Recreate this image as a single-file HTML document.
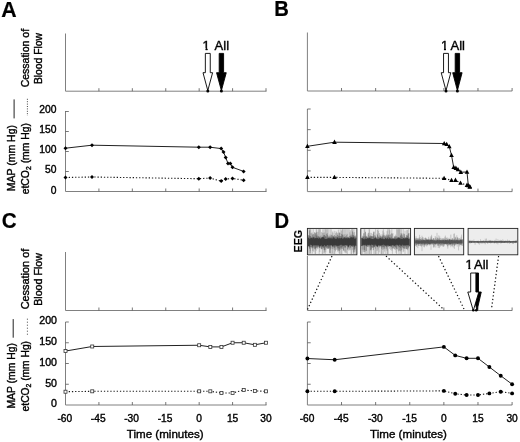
<!DOCTYPE html>
<html><head><meta charset="utf-8"><title>Figure</title>
<style>
html,body{margin:0;padding:0;background:#fff;}
body{width:520px;height:442px;overflow:hidden;}
svg{display:block;font-family:"Liberation Sans",Arial,sans-serif;fill:#000;}
text{stroke:#000;stroke-width:0.38px;}
</style></head><body>
<svg width="520" height="442" viewBox="0 0 520 442">
<rect width="520" height="442" fill="#fff"/>
<text transform="translate(1.3 16.5) scale(1.0 1)" font-size="21.3" font-weight="bold" style="stroke-width:0.2px">A</text>
<text transform="translate(274.3 16.4) scale(0.95 1)" font-size="21.3" font-weight="bold" style="stroke-width:0.2px">B</text>
<text transform="translate(1.7 228.1) scale(0.97 1)" font-size="21.3" font-weight="bold" style="stroke-width:0.2px">C</text>
<text transform="translate(274.5 228.1) scale(0.95 1)" font-size="21.3" font-weight="bold" style="stroke-width:0.2px">D</text>
<path d="M65.5 33.5V91.2H266.5" fill="none" stroke="#808080" stroke-width="1"/>
<path d="M98.92 91.2v-3M132.33 91.2v-3M165.75 91.2v-3M199.17 91.2v-3M232.58 91.2v-3M266.00 91.2v-3" fill="none" stroke="#555" stroke-width="0.8"/>
<path d="M65.5 111V191.5H266.5" fill="none" stroke="#808080" stroke-width="1"/>
<path d="M98.92 191.5v-3M132.33 191.5v-3M165.75 191.5v-3M199.17 191.5v-3M232.58 191.5v-3M266.00 191.5v-3M65.5 171.50h3.3M65.5 151.50h3.3M65.5 131.50h3.3M65.5 111.50h3.3" fill="none" stroke="#555" stroke-width="0.8"/>
<path d="M307.4 32.5V91H512.2" fill="none" stroke="#808080" stroke-width="1"/>
<path d="M341.52 91v-3M375.63 91v-3M409.75 91v-3M443.87 91v-3M477.98 91v-3M512.10 91v-3" fill="none" stroke="#555" stroke-width="0.8"/>
<path d="M307.4 109V191.6H512.2" fill="none" stroke="#808080" stroke-width="1"/>
<path d="M341.52 191.6v-3M375.63 191.6v-3M409.75 191.6v-3M443.87 191.6v-3M477.98 191.6v-3M512.10 191.6v-3M307.4 170.95h3.3M307.4 150.30h3.3M307.4 129.65h3.3M307.4 109.00h3.3" fill="none" stroke="#555" stroke-width="0.8"/>
<path d="M65.5 252V310.5H266.5" fill="none" stroke="#808080" stroke-width="1"/>
<path d="M98.92 310.5v-3M132.33 310.5v-3M165.75 310.5v-3M199.17 310.5v-3M232.58 310.5v-3M266.00 310.5v-3" fill="none" stroke="#555" stroke-width="0.8"/>
<path d="M65.5 322V405H266.5" fill="none" stroke="#808080" stroke-width="1"/>
<path d="M98.92 405v-3M132.33 405v-3M165.75 405v-3M199.17 405v-3M232.58 405v-3M266.00 405v-3M65.5 384.25h3.3M65.5 363.50h3.3M65.5 342.75h3.3M65.5 322.00h3.3" fill="none" stroke="#555" stroke-width="0.8"/>
<path d="M307.4 256V310.5H512.2" fill="none" stroke="#808080" stroke-width="1"/>
<path d="M341.52 310.5v-3M375.63 310.5v-3M409.75 310.5v-3M443.87 310.5v-3M477.98 310.5v-3M512.10 310.5v-3" fill="none" stroke="#555" stroke-width="0.8"/>
<path d="M307.4 322V405H512.2" fill="none" stroke="#808080" stroke-width="1"/>
<path d="M341.52 405v-3M375.63 405v-3M409.75 405v-3M443.87 405v-3M477.98 405v-3M512.10 405v-3M307.4 384.25h3.3M307.4 363.50h3.3M307.4 342.75h3.3M307.4 322.00h3.3" fill="none" stroke="#555" stroke-width="0.8"/>
<text x="56.4" y="193.51" font-size="10.3" font-weight="normal" text-anchor="end">0</text>
<text x="56.4" y="173.46" font-size="10.3" font-weight="normal" text-anchor="end">50</text>
<text x="56.4" y="153.41" font-size="10.3" font-weight="normal" text-anchor="end">100</text>
<text x="56.4" y="133.36" font-size="10.3" font-weight="normal" text-anchor="end">150</text>
<text x="56.4" y="113.31" font-size="10.3" font-weight="normal" text-anchor="end">200</text>
<text x="57.0" y="407.42" font-size="10.6" font-weight="normal" text-anchor="end">0</text>
<text x="57.0" y="386.67" font-size="10.6" font-weight="normal" text-anchor="end">50</text>
<text x="57.0" y="365.92" font-size="10.6" font-weight="normal" text-anchor="end">100</text>
<text x="57.0" y="345.17" font-size="10.6" font-weight="normal" text-anchor="end">150</text>
<text x="57.0" y="324.42" font-size="10.6" font-weight="normal" text-anchor="end">200</text>
<text x="64.8" y="422.2" font-size="10.2" font-weight="normal" text-anchor="middle">-60</text>
<text x="98.2" y="422.2" font-size="10.2" font-weight="normal" text-anchor="middle">-45</text>
<text x="131.60000000000002" y="422.2" font-size="10.2" font-weight="normal" text-anchor="middle">-30</text>
<text x="165.10000000000002" y="422.2" font-size="10.2" font-weight="normal" text-anchor="middle">-15</text>
<text x="199.2" y="422.2" font-size="10.2" font-weight="normal" text-anchor="middle">0</text>
<text x="232.6" y="422.2" font-size="10.2" font-weight="normal" text-anchor="middle">15</text>
<text x="266.0" y="422.2" font-size="10.2" font-weight="normal" text-anchor="middle">30</text>
<text x="307.09999999999997" y="422.2" font-size="10.2" font-weight="normal" text-anchor="middle">-60</text>
<text x="341.2" y="422.2" font-size="10.2" font-weight="normal" text-anchor="middle">-45</text>
<text x="375.3" y="422.2" font-size="10.2" font-weight="normal" text-anchor="middle">-30</text>
<text x="409.5" y="422.2" font-size="10.2" font-weight="normal" text-anchor="middle">-15</text>
<text x="443.9" y="422.2" font-size="10.2" font-weight="normal" text-anchor="middle">0</text>
<text x="478.0" y="422.2" font-size="10.2" font-weight="normal" text-anchor="middle">15</text>
<text x="512.1" y="422.2" font-size="10.2" font-weight="normal" text-anchor="middle">30</text>
<text x="165.2" y="437.5" font-size="11.6" font-weight="normal" text-anchor="middle">Time (minutes)</text>
<text x="408.5" y="437.5" font-size="11.6" font-weight="normal" text-anchor="middle">Time (minutes)</text>
<text x="29.2" y="87.3" font-size="10.5" font-weight="normal" text-anchor="start" transform="rotate(-90 29.2 87.3)">Cessation of</text>
<text x="41.9" y="84.1" font-size="10.35" font-weight="normal" text-anchor="start" transform="rotate(-90 41.9 84.1)">Blood Flow</text>
<text x="29.2" y="309.3" font-size="10.9" font-weight="normal" text-anchor="start" transform="rotate(-90 29.2 309.3)">Cessation of</text>
<text x="41.9" y="305.8" font-size="10.66" font-weight="normal" text-anchor="start" transform="rotate(-90 41.9 305.8)">Blood Flow</text>
<text x="15.5" y="191.3" font-size="10.5" font-weight="normal" text-anchor="start" transform="rotate(-90 15.5 191.3)">MAP (mm Hg)</text>
<path d="M14.1 99.4V118.4" stroke="#222" stroke-width="1"/>
<text x="29.5" y="194.3" font-size="10.4" transform="rotate(-90 29.5 194.3)">etCO<tspan font-size="6.8" dy="1.6">2</tspan><tspan dy="-1.6"> (mm Hg)</tspan></text>
<path d="M27.4 98.8V115.8" stroke="#444" stroke-width="1" stroke-dasharray="1 1.4"/>
<text x="15.5" y="408.6" font-size="10.4" font-weight="normal" text-anchor="start" transform="rotate(-90 15.5 408.6)">MAP (mm Hg)</text>
<path d="M13.2 319.1V337.7" stroke="#222" stroke-width="1"/>
<text x="29.5" y="411.4" font-size="10.25" transform="rotate(-90 29.5 411.4)">etCO<tspan font-size="6.8" dy="1.6">2</tspan><tspan dy="-1.6"> (mm Hg)</tspan></text>
<path d="M27.4 318.7V335.3" stroke="#444" stroke-width="1" stroke-dasharray="1 2"/>
<path d="M65.50 148.20L92.00 145.20L198.80 147.20L210.10 147.20L221.20 148.60L223.50 152.00L225.70 157.40L228.00 163.50L230.30 163.50L232.50 167.30L243.60 171.40" fill="none" stroke="#222" stroke-width="1"/>
<path d="M65.50 146.20L67.50 148.20L65.50 150.20L63.50 148.20Z" fill="#000"/>
<path d="M92.00 143.20L94.00 145.20L92.00 147.20L90.00 145.20Z" fill="#000"/>
<path d="M198.80 145.20L200.80 147.20L198.80 149.20L196.80 147.20Z" fill="#000"/>
<path d="M210.10 145.20L212.10 147.20L210.10 149.20L208.10 147.20Z" fill="#000"/>
<path d="M221.20 146.60L223.20 148.60L221.20 150.60L219.20 148.60Z" fill="#000"/>
<path d="M223.50 150.00L225.50 152.00L223.50 154.00L221.50 152.00Z" fill="#000"/>
<path d="M225.70 155.40L227.70 157.40L225.70 159.40L223.70 157.40Z" fill="#000"/>
<path d="M228.00 161.50L230.00 163.50L228.00 165.50L226.00 163.50Z" fill="#000"/>
<path d="M230.30 161.50L232.30 163.50L230.30 165.50L228.30 163.50Z" fill="#000"/>
<path d="M232.50 165.30L234.50 167.30L232.50 169.30L230.50 167.30Z" fill="#000"/>
<path d="M243.60 169.40L245.60 171.40L243.60 173.40L241.60 171.40Z" fill="#000"/>
<path d="M65.50 177.50L92.00 177.00L198.80 178.70L210.10 178.10L221.20 181.10L225.70 179.10L232.50 178.40L243.60 180.20" fill="none" stroke="#1a1a1a" stroke-width="1.1" stroke-dasharray="1.3 1.9"/>
<path d="M65.50 175.50L67.50 177.50L65.50 179.50L63.50 177.50Z" fill="#000"/>
<path d="M92.00 175.00L94.00 177.00L92.00 179.00L90.00 177.00Z" fill="#000"/>
<path d="M198.80 176.70L200.80 178.70L198.80 180.70L196.80 178.70Z" fill="#000"/>
<path d="M210.10 176.10L212.10 178.10L210.10 180.10L208.10 178.10Z" fill="#000"/>
<path d="M221.20 179.10L223.20 181.10L221.20 183.10L219.20 181.10Z" fill="#000"/>
<path d="M225.70 177.10L227.70 179.10L225.70 181.10L223.70 179.10Z" fill="#000"/>
<path d="M232.50 176.40L234.50 178.40L232.50 180.40L230.50 178.40Z" fill="#000"/>
<path d="M243.60 178.20L245.60 180.20L243.60 182.20L241.60 180.20Z" fill="#000"/>
<path d="M205.35 53.4H210.25V72.7H212.60L207.80 90.6L203.00 72.7H205.35Z" fill="#fff" stroke="#000" stroke-width="0.9" stroke-linejoin="miter"/>
<path d="M219.20 53.4H223.60V72.7H226.25L221.40 90.6L216.55 72.7H219.20Z" fill="#000" stroke="#000" stroke-width="0.9" stroke-linejoin="miter"/>
<circle cx="207.8" cy="91" r="1.5" fill="#000"/><circle cx="221.4" cy="91" r="1.5" fill="#000"/>
<clipPath id="c1_1"><path d="M201.60 37.80H211.60V48.10H207.60V50.80H205.55V48.10H201.60Z"/></clipPath>
<text x="202.6" y="49.8" font-size="13" clip-path="url(#c1_1)">1</text>
<text x="214.6" y="49.8" font-size="13" font-weight="normal" text-anchor="start">All</text>
<path d="M307.40 146.30L334.50 142.20L444.20 143.50L446.70 144.30L449.30 146.60L451.50 155.30L453.70 167.30L455.90 168.20L458.00 169.60L460.80 172.20L467.00 172.00L468.30 185.50L469.80 186.60" fill="none" stroke="#222" stroke-width="1"/>
<path d="M307.40 143.70L309.70 148.00L305.10 148.00Z" fill="#000"/>
<path d="M334.50 139.60L336.80 143.90L332.20 143.90Z" fill="#000"/>
<path d="M444.20 140.90L446.50 145.20L441.90 145.20Z" fill="#000"/>
<path d="M446.70 141.70L449.00 146.00L444.40 146.00Z" fill="#000"/>
<path d="M449.30 144.00L451.60 148.30L447.00 148.30Z" fill="#000"/>
<path d="M451.50 152.70L453.80 157.00L449.20 157.00Z" fill="#000"/>
<path d="M453.70 164.70L456.00 169.00L451.40 169.00Z" fill="#000"/>
<path d="M455.90 165.60L458.20 169.90L453.60 169.90Z" fill="#000"/>
<path d="M458.00 167.00L460.30 171.30L455.70 171.30Z" fill="#000"/>
<path d="M460.80 169.60L463.10 173.90L458.50 173.90Z" fill="#000"/>
<path d="M467.00 169.40L469.30 173.70L464.70 173.70Z" fill="#000"/>
<path d="M468.30 182.90L470.60 187.20L466.00 187.20Z" fill="#000"/>
<path d="M469.80 184.00L472.10 188.30L467.50 188.30Z" fill="#000"/>
<path d="M307.40 177.40L334.50 177.40L444.10 178.30L451.50 180.30L455.50 180.20L460.50 183.00L467.00 185.20L469.80 187.00" fill="none" stroke="#1a1a1a" stroke-width="1.1" stroke-dasharray="1.3 1.9"/>
<path d="M307.40 174.80L309.70 179.10L305.10 179.10Z" fill="#000"/>
<path d="M334.50 174.80L336.80 179.10L332.20 179.10Z" fill="#000"/>
<path d="M444.10 175.70L446.40 180.00L441.80 180.00Z" fill="#000"/>
<path d="M451.50 177.70L453.80 182.00L449.20 182.00Z" fill="#000"/>
<path d="M455.50 177.60L457.80 181.90L453.20 181.90Z" fill="#000"/>
<path d="M460.50 180.40L462.80 184.70L458.20 184.70Z" fill="#000"/>
<path d="M467.00 182.60L469.30 186.90L464.70 186.90Z" fill="#000"/>
<path d="M469.80 184.40L472.10 188.70L467.50 188.70Z" fill="#000"/>
<path d="M443.55 53.4H448.45V72.7H450.80L446.00 90.6L441.20 72.7H443.55Z" fill="#fff" stroke="#000" stroke-width="0.9" stroke-linejoin="miter"/>
<path d="M455.20 53.4H459.60V72.7H462.10L457.40 90.6L452.70 72.7H455.20Z" fill="#000" stroke="#000" stroke-width="0.9" stroke-linejoin="miter"/>
<circle cx="446" cy="91" r="1.5" fill="#000"/><circle cx="457.4" cy="91" r="1.5" fill="#000"/>
<clipPath id="c1_2"><path d="M440.00 37.80H450.00V48.10H446.00V50.80H443.95V48.10H440.00Z"/></clipPath>
<text x="441.0" y="49.8" font-size="13" clip-path="url(#c1_2)">1</text>
<text x="450.5" y="49.8" font-size="13" font-weight="normal" text-anchor="start">All</text>
<path d="M65.50 351.05L92.23 346.49L199.17 345.24L210.31 346.90L221.44 346.90L232.58 342.75L243.72 342.75L254.86 344.82L266.00 342.75" fill="none" stroke="#222" stroke-width="1"/>
<rect x="64.00" y="349.55" width="3.0" height="3.0" fill="#fff" stroke="#333" stroke-width="0.8"/>
<rect x="90.73" y="344.99" width="3.0" height="3.0" fill="#fff" stroke="#333" stroke-width="0.8"/>
<rect x="197.67" y="343.74" width="3.0" height="3.0" fill="#fff" stroke="#333" stroke-width="0.8"/>
<rect x="208.81" y="345.40" width="3.0" height="3.0" fill="#fff" stroke="#333" stroke-width="0.8"/>
<rect x="219.94" y="345.40" width="3.0" height="3.0" fill="#fff" stroke="#333" stroke-width="0.8"/>
<rect x="231.08" y="341.25" width="3.0" height="3.0" fill="#fff" stroke="#333" stroke-width="0.8"/>
<rect x="242.22" y="341.25" width="3.0" height="3.0" fill="#fff" stroke="#333" stroke-width="0.8"/>
<rect x="253.36" y="343.32" width="3.0" height="3.0" fill="#fff" stroke="#333" stroke-width="0.8"/>
<rect x="264.50" y="341.25" width="3.0" height="3.0" fill="#fff" stroke="#333" stroke-width="0.8"/>
<path d="M65.50 391.72L92.23 391.31L199.17 391.31L210.31 391.31L221.44 392.96L232.58 392.96L243.72 390.06L254.86 390.89L266.00 391.31" fill="none" stroke="#1a1a1a" stroke-width="1.1" stroke-dasharray="1.3 1.9"/>
<rect x="64.00" y="390.22" width="3.0" height="3.0" fill="#fff" stroke="#333" stroke-width="0.8"/>
<rect x="90.73" y="389.81" width="3.0" height="3.0" fill="#fff" stroke="#333" stroke-width="0.8"/>
<rect x="197.67" y="389.81" width="3.0" height="3.0" fill="#fff" stroke="#333" stroke-width="0.8"/>
<rect x="208.81" y="389.81" width="3.0" height="3.0" fill="#fff" stroke="#333" stroke-width="0.8"/>
<rect x="219.94" y="391.46" width="3.0" height="3.0" fill="#fff" stroke="#333" stroke-width="0.8"/>
<rect x="231.08" y="391.46" width="3.0" height="3.0" fill="#fff" stroke="#333" stroke-width="0.8"/>
<rect x="242.22" y="388.56" width="3.0" height="3.0" fill="#fff" stroke="#333" stroke-width="0.8"/>
<rect x="253.36" y="389.39" width="3.0" height="3.0" fill="#fff" stroke="#333" stroke-width="0.8"/>
<rect x="264.50" y="389.81" width="3.0" height="3.0" fill="#fff" stroke="#333" stroke-width="0.8"/>
<path d="M307.40 358.52L334.69 359.76L443.87 346.90L455.24 355.41L466.61 358.31L477.98 358.31L489.36 367.03L500.73 375.74L512.10 384.25" fill="none" stroke="#222" stroke-width="1"/>
<circle cx="307.40" cy="358.52" r="1.95" fill="#000"/>
<circle cx="334.69" cy="359.76" r="1.95" fill="#000"/>
<circle cx="443.87" cy="346.90" r="1.95" fill="#000"/>
<circle cx="455.24" cy="355.41" r="1.95" fill="#000"/>
<circle cx="466.61" cy="358.31" r="1.95" fill="#000"/>
<circle cx="477.98" cy="358.31" r="1.95" fill="#000"/>
<circle cx="489.36" cy="367.03" r="1.95" fill="#000"/>
<circle cx="500.73" cy="375.74" r="1.95" fill="#000"/>
<circle cx="512.10" cy="384.25" r="1.95" fill="#000"/>
<path d="M307.40 391.31L334.69 391.31L443.87 390.89L455.24 393.80L466.61 395.04L477.98 395.04L489.36 393.38L500.73 391.72L512.10 393.38" fill="none" stroke="#1a1a1a" stroke-width="1.1" stroke-dasharray="1.3 1.9"/>
<circle cx="307.40" cy="391.31" r="1.95" fill="#000"/>
<circle cx="334.69" cy="391.31" r="1.95" fill="#000"/>
<circle cx="443.87" cy="390.89" r="1.95" fill="#000"/>
<circle cx="455.24" cy="393.80" r="1.95" fill="#000"/>
<circle cx="466.61" cy="395.04" r="1.95" fill="#000"/>
<circle cx="477.98" cy="395.04" r="1.95" fill="#000"/>
<circle cx="489.36" cy="393.38" r="1.95" fill="#000"/>
<circle cx="500.73" cy="391.72" r="1.95" fill="#000"/>
<circle cx="512.10" cy="393.38" r="1.95" fill="#000"/>
<path d="M475.50 273H478.50V292H481.25L477.00 310.6L472.75 292H475.50Z" fill="#000" stroke="#000" stroke-width="0.9" stroke-linejoin="miter"/>
<path d="M470.70 273H475.90V292H478.80L473.30 310.6L467.80 292H470.70Z" fill="#fff" stroke="#000" stroke-width="0.9" stroke-linejoin="miter"/>
<circle cx="473.3" cy="310.3" r="1.3" fill="#000"/><circle cx="476.2" cy="310.3" r="1.3" fill="#000"/>
<clipPath id="c1_3"><path d="M464.40 256.60H474.40V266.90H470.40V269.60H468.35V266.90H464.40Z"/></clipPath>
<text x="465.4" y="268.6" font-size="13" clip-path="url(#c1_3)">1</text>
<text x="474.0" y="268.6" font-size="13" font-weight="normal" text-anchor="start">All</text>
<path d="M332 256L307.5 309.5" stroke="#111" stroke-width="1.2" stroke-dasharray="1.3 2.3"/>
<path d="M386 256L443.2 309" stroke="#111" stroke-width="1.2" stroke-dasharray="1.3 2.3"/>
<path d="M438.5 256L464 309" stroke="#111" stroke-width="1.2" stroke-dasharray="1.3 2.3"/>
<path d="M498.6 256L491.5 309" stroke="#111" stroke-width="1.2" stroke-dasharray="1.3 2.3"/>
<text x="78.5" y="0" font-size="1" font-weight="normal" text-anchor="start"></text>
<text transform="translate(301.5 252.6) rotate(-90) scale(0.92 1)" font-size="11.8" font-weight="bold" style="stroke-width:0.15px">EEG</text>
<defs><filter id="bl" x="-5%" y="-5%" width="110%" height="110%"><feGaussianBlur stdDeviation="0.35"/></filter></defs>
<rect x="307.4" y="228.4" width="49.5" height="26.4" fill="#ededed"/>
<g filter="url(#bl)">
<path d="M308.4 237.2V254.0M309.0 229.2V246.3M309.6 229.2V254.0M310.2 229.2V251.1M310.8 229.2V254.0M311.4 236.8V245.0M312.0 236.8V247.7M312.6 234.9V253.7M313.2 229.2V245.5M313.8 235.7V251.9M314.4 233.0V246.5M315.0 238.7V254.0M315.6 238.3V254.0M316.2 229.2V250.9M316.8 229.2V247.4M317.4 234.5V249.3M318.0 231.8V248.7M318.6 229.2V246.5M319.2 229.2V254.0M319.8 229.2V252.0M320.4 229.2V248.0M321.0 235.2V248.8M321.6 231.9V248.7M322.2 232.8V254.0M322.8 229.3V254.0M323.4 236.7V249.6M324.0 229.2V247.8M324.6 232.5V251.8M325.2 229.2V254.0M325.8 229.2V252.4M326.4 229.2V249.4M327.0 236.5V245.8M327.6 229.2V246.8M328.2 229.2V248.9M328.8 235.9V247.5M329.4 236.6V247.6M330.0 229.2V254.0M330.6 235.9V249.6M331.2 229.2V254.0M331.8 237.4V245.2M332.4 231.5V253.5M333.0 232.7V254.0M333.6 236.5V249.4M334.2 230.9V254.0M334.8 237.8V254.0M335.4 233.1V245.8M336.0 231.2V246.9M336.6 232.2V246.7M337.2 237.4V249.5M337.8 234.5V251.9M338.4 229.6V250.3M339.0 239.1V253.3M339.6 232.4V254.0M340.2 229.2V254.0M340.8 236.1V247.8M341.4 230.6V254.0M342.0 229.2V254.0M342.6 229.2V246.7M343.2 229.2V250.8M343.8 239.0V250.9M344.4 229.2V252.5M345.0 234.1V251.3M345.6 229.2V252.7M346.2 237.7V244.9M346.8 229.2V245.0M347.4 237.6V254.0M348.0 229.2V249.2M348.6 239.0V250.7M349.2 229.2V249.5M349.8 232.3V250.5M350.4 230.3V247.4M351.0 234.3V254.0M351.6 229.2V254.0M352.2 229.2V250.3M352.8 229.2V249.6M353.4 232.4V254.0M354.0 229.2V254.0M354.6 232.1V249.9M355.2 234.9V251.5M355.8 236.9V254.0" stroke="#555" stroke-width="0.45" fill="none" opacity="0.6"/>
<path d="M308.4 235.1V246.8M308.8 235.5V246.1M309.3 235.6V248.2M309.7 230.5V249.0M310.2 236.2V253.1M310.6 236.2V247.2M311.1 233.3V247.0M311.5 237.8V247.3M312.0 232.5V248.7M312.4 237.1V247.8M312.9 234.3V250.9M313.3 234.1V247.7M313.8 237.2V246.3M314.2 236.9V248.5M314.7 232.0V248.7M315.1 234.6V249.6M315.6 233.2V248.6M316.0 232.9V248.1M316.5 235.5V246.5M316.9 231.9V247.9M317.4 237.8V247.3M317.8 235.9V246.2M318.3 236.7V246.9M318.7 236.2V246.4M319.2 237.1V248.0M319.6 237.8V248.1M320.1 236.2V245.8M320.5 237.7V246.3M321.0 238.0V246.3M321.4 237.6V249.3M321.9 236.8V248.8M322.3 236.8V246.3M322.8 236.7V248.5M323.2 232.7V246.0M323.7 235.4V247.9M324.1 234.9V253.2M324.6 235.1V250.2M325.0 236.9V249.7M325.5 235.8V247.3M325.9 236.6V246.3M326.4 233.8V247.8M326.8 237.9V247.5M327.3 233.3V248.5M327.7 235.1V248.9M328.2 237.6V247.9M328.6 237.1V248.8M329.1 236.3V248.4M329.5 237.4V252.9M330.0 234.5V246.4M330.4 237.7V253.1M330.9 237.0V248.3M331.3 235.2V245.8M331.8 234.7V246.3M332.2 237.0V249.0M332.7 235.8V245.9M333.1 235.6V247.3M333.6 237.4V246.0M334.0 237.3V247.7M334.5 235.0V247.6M334.9 238.0V249.9M335.4 236.8V251.4M335.8 236.1V247.4M336.3 236.4V246.0M336.7 237.3V249.8M337.2 232.9V247.3M337.6 234.9V248.3M338.1 237.5V250.9M338.5 235.8V248.4M339.0 232.7V246.0M339.4 236.2V250.8M339.9 232.9V248.8M340.3 236.2V249.7M340.8 237.9V246.5M341.2 236.2V247.8M341.7 233.8V249.1M342.1 234.3V247.2M342.6 235.0V248.8M343.0 237.8V245.8M343.5 236.6V250.3M343.9 234.5V245.9M344.4 237.4V246.7M344.8 237.8V247.9M345.3 236.0V246.8M345.7 237.7V247.7M346.2 237.5V253.4M346.6 235.2V245.9M347.1 233.8V246.4M347.5 237.6V249.7M348.0 237.3V246.7M348.4 236.7V247.5M348.9 237.9V248.2M349.3 237.6V246.0M349.8 235.9V246.6M350.2 236.0V249.6M350.7 236.9V247.9M351.1 234.9V246.1M351.6 236.6V246.1M352.0 236.5V247.0M352.5 231.5V246.7M352.9 234.9V246.2M353.4 234.9V252.5M353.8 235.9V246.5M354.3 236.3V252.4M354.7 237.1V249.4M355.2 235.8V248.5M355.6 236.6V246.3" stroke="#333" stroke-width="0.45" fill="none" opacity="0.71"/>
<path d="M308.0 238.5L308.7 237.6L309.4 238.8L310.1 238.8L310.8 237.7L311.5 238.1L312.2 238.4L312.9 238.1L313.6 237.0L314.3 238.8L315.0 237.4L315.7 238.3L316.4 238.2L317.1 237.5L317.8 238.3L318.5 239.0L319.2 237.2L319.9 238.5L320.6 239.1L321.3 238.3L322.0 236.9L322.7 237.4L323.4 237.2L324.1 237.7L324.8 239.0L325.5 239.0L326.2 239.1L326.9 239.0L327.6 238.5L328.3 238.0L329.0 238.5L329.7 238.2L330.4 238.5L331.1 237.9L331.8 238.7L332.5 238.4L333.2 238.2L333.9 235.7L334.6 238.5L335.3 238.9L336.0 238.8L336.7 239.0L337.4 236.8L338.1 239.1L338.8 237.8L339.5 238.3L340.2 238.2L340.9 238.5L341.6 237.4L342.3 238.5L343.0 239.0L343.7 238.0L344.4 236.8L345.1 238.9L345.8 237.2L346.5 238.0L347.2 239.1L347.9 236.9L348.6 238.0L349.3 238.2L350.0 238.5L350.7 237.3L351.4 237.3L352.1 237.8L352.8 237.6L353.5 237.0L354.2 238.8L354.9 238.5L355.6 238.4L356.3 237.8L356.3 246.1L355.6 245.4L354.9 245.5L354.2 247.5L353.5 245.2L352.8 245.1L352.1 246.4L351.4 245.4L350.7 245.0L350.0 245.2L349.3 244.9L348.6 246.9L347.9 246.5L347.2 244.7L346.5 245.6L345.8 245.1L345.1 244.9L344.4 245.4L343.7 245.5L343.0 245.6L342.3 245.4L341.6 244.7L340.9 244.8L340.2 245.1L339.5 245.5L338.8 245.5L338.1 246.0L337.4 245.8L336.7 245.7L336.0 245.2L335.3 245.2L334.6 244.9L333.9 247.0L333.2 244.7L332.5 247.3L331.8 245.3L331.1 245.1L330.4 245.6L329.7 244.8L329.0 246.6L328.3 244.9L327.6 245.0L326.9 245.1L326.2 246.5L325.5 246.0L324.8 245.1L324.1 245.3L323.4 246.7L322.7 246.2L322.0 246.9L321.3 244.8L320.6 245.7L319.9 247.5L319.2 246.1L318.5 245.1L317.8 245.7L317.1 244.7L316.4 245.6L315.7 245.3L315.0 245.6L314.3 245.2L313.6 244.7L312.9 246.9L312.2 245.6L311.5 245.0L310.8 244.7L310.1 244.7L309.4 247.3L308.7 246.0L308.0 246.0Z" fill="#2a2a2a" opacity="0.76"/>
</g>
<rect x="307.4" y="228.4" width="49.5" height="26.4" fill="none" stroke="#222" stroke-width="0.9"/>
<rect x="360.8" y="228.4" width="49.8" height="26.4" fill="#ededed"/>
<g filter="url(#bl)">
<path d="M361.8 237.4V246.1M362.4 235.6V254.0M363.0 236.9V251.8M363.6 233.5V249.7M364.2 229.2V254.0M364.8 229.2V244.5M365.4 231.5V254.0M366.0 235.6V250.6M366.6 236.1V254.0M367.2 233.5V245.5M367.8 237.3V254.0M368.4 234.9V244.5M369.0 229.2V254.0M369.6 229.2V254.0M370.2 232.9V247.0M370.8 236.8V254.0M371.4 232.9V254.0M372.0 235.9V250.3M372.6 239.1V244.9M373.2 235.9V245.4M373.8 231.3V254.0M374.4 231.8V246.8M375.0 237.1V254.0M375.6 229.2V254.0M376.2 236.9V244.9M376.8 239.1V254.0M377.4 230.0V246.9M378.0 229.2V249.5M378.6 230.8V254.0M379.2 238.6V252.3M379.8 235.4V247.9M380.4 235.4V246.3M381.0 234.1V254.0M381.6 236.6V254.0M382.2 235.6V254.0M382.8 230.7V246.3M383.4 229.2V254.0M384.0 232.6V249.1M384.6 238.7V251.6M385.2 239.2V254.0M385.8 236.2V249.3M386.4 239.1V249.1M387.0 231.1V254.0M387.6 229.2V254.0M388.2 235.7V254.0M388.8 229.2V246.4M389.4 229.2V245.9M390.0 230.3V246.0M390.6 234.3V250.1M391.2 236.3V245.5M391.8 229.2V251.0M392.4 239.1V253.9M393.0 233.2V244.8M393.6 237.6V248.8M394.2 236.4V245.7M394.8 237.4V246.7M395.4 234.6V247.5M396.0 235.9V252.8M396.6 229.2V254.0M397.2 229.6V249.1M397.8 229.2V250.4M398.4 229.2V245.4M399.0 229.2V254.0M399.6 229.2V250.4M400.2 229.2V246.5M400.8 233.2V254.0M401.4 229.2V254.0M402.0 233.2V247.5M402.6 237.5V248.1M403.2 229.2V252.1M403.8 238.0V251.3M404.4 235.6V248.1M405.0 230.7V254.0M405.6 237.6V247.4M406.2 235.2V248.7M406.8 230.2V249.0M407.4 229.8V245.8M408.0 238.4V254.0M408.6 229.2V245.0M409.2 233.1V254.0" stroke="#555" stroke-width="0.45" fill="none" opacity="0.6"/>
<path d="M361.8 237.7V246.2M362.2 238.0V249.7M362.7 237.6V245.5M363.1 236.0V245.5M363.6 237.1V245.8M364.0 233.2V251.9M364.5 237.9V250.0M364.9 236.0V252.0M365.4 232.1V245.7M365.8 237.1V246.2M366.3 237.0V251.0M366.7 236.3V246.3M367.2 238.3V246.9M367.6 236.8V246.6M368.1 237.8V246.7M368.5 232.8V245.5M369.0 237.9V247.3M369.4 236.2V245.5M369.9 236.9V245.8M370.3 235.3V250.4M370.8 236.1V250.2M371.2 236.3V249.2M371.7 236.1V247.4M372.1 236.9V247.2M372.6 236.2V247.7M373.0 233.9V247.9M373.5 232.2V250.2M373.9 236.7V247.2M374.4 237.8V247.3M374.8 235.1V245.6M375.3 235.7V248.7M375.7 236.9V246.0M376.2 238.4V246.2M376.6 237.6V247.1M377.1 233.8V250.9M377.5 235.2V247.3M378.0 238.3V245.5M378.4 237.0V245.7M378.9 236.4V247.2M379.3 233.1V245.8M379.8 237.2V246.7M380.2 238.1V245.8M380.7 236.1V245.4M381.1 236.6V246.9M381.6 237.9V248.7M382.0 237.0V246.3M382.5 236.4V247.4M382.9 234.5V249.8M383.4 238.3V246.8M383.8 235.5V247.4M384.3 235.4V248.6M384.7 236.8V246.5M385.2 234.8V245.7M385.6 236.3V246.3M386.1 236.7V247.5M386.5 234.6V247.0M387.0 238.3V250.8M387.4 235.4V246.2M387.9 236.9V246.4M388.3 234.3V247.0M388.8 235.2V245.6M389.2 237.1V245.9M389.7 237.3V248.7M390.1 234.8V245.6M390.6 237.8V246.8M391.0 237.6V247.4M391.5 233.4V247.0M391.9 237.6V249.3M392.4 233.6V245.6M392.8 238.3V248.2M393.3 238.3V248.1M393.7 238.2V246.6M394.2 238.3V246.1M394.6 236.3V249.0M395.1 236.8V249.9M395.5 237.9V247.3M396.0 235.9V246.3M396.4 237.7V248.4M396.9 238.1V249.0M397.3 236.7V245.8M397.8 238.1V245.7M398.2 238.3V247.2M398.7 238.2V251.4M399.1 238.3V247.6M399.6 236.8V246.9M400.0 238.0V250.8M400.5 235.8V248.2M400.9 234.9V251.4M401.4 233.7V246.3M401.8 236.8V250.1M402.3 234.7V246.9M402.7 236.5V246.3M403.2 237.6V248.8M403.6 233.5V248.0M404.1 238.0V245.9M404.5 233.9V249.0M405.0 237.6V246.5M405.4 237.7V245.5M405.9 237.1V248.7M406.3 237.1V249.3M406.8 235.3V246.7M407.2 235.4V248.9M407.7 236.2V250.2M408.1 233.8V247.4M408.6 233.2V248.5M409.0 237.1V246.5M409.5 237.9V245.8" stroke="#333" stroke-width="0.45" fill="none" opacity="0.69"/>
<path d="M361.4 238.2L362.1 238.0L362.8 238.8L363.5 239.0L364.2 239.4L364.9 238.9L365.6 238.6L366.3 239.0L367.0 238.7L367.7 238.1L368.4 238.5L369.1 238.3L369.8 237.7L370.5 238.4L371.2 238.7L371.9 239.1L372.6 239.1L373.3 238.7L374.0 239.2L374.7 238.1L375.4 237.4L376.1 238.9L376.8 238.2L377.5 239.2L378.2 239.2L378.9 239.0L379.6 238.2L380.3 237.7L381.0 238.8L381.7 238.7L382.4 238.5L383.1 239.0L383.8 239.2L384.5 239.2L385.2 238.3L385.9 237.7L386.6 239.3L387.3 237.6L388.0 239.4L388.7 238.8L389.4 238.2L390.1 238.5L390.8 238.8L391.5 239.2L392.2 238.5L392.9 238.8L393.6 239.1L394.3 238.8L395.0 239.0L395.7 239.4L396.4 238.8L397.1 239.1L397.8 237.6L398.5 237.1L399.2 238.5L399.9 237.5L400.6 239.3L401.3 238.9L402.0 238.8L402.7 239.2L403.4 237.8L404.1 238.9L404.8 238.6L405.5 238.5L406.2 237.9L406.9 238.4L407.6 237.8L408.3 238.7L409.0 239.0L409.7 239.1L409.7 246.1L409.0 246.6L408.3 244.8L407.6 245.2L406.9 245.0L406.2 245.4L405.5 245.6L404.8 245.3L404.1 245.6L403.4 245.6L402.7 244.6L402.0 244.9L401.3 245.9L400.6 245.6L399.9 244.6L399.2 245.0L398.5 246.1L397.8 244.7L397.1 245.0L396.4 244.5L395.7 245.4L395.0 244.9L394.3 246.4L393.6 245.3L392.9 244.9L392.2 245.3L391.5 245.8L390.8 245.4L390.1 245.9L389.4 246.2L388.7 245.2L388.0 246.0L387.3 244.8L386.6 245.6L385.9 246.0L385.2 245.2L384.5 245.2L383.8 244.6L383.1 244.7L382.4 245.0L381.7 245.1L381.0 246.2L380.3 245.3L379.6 245.4L378.9 245.6L378.2 245.1L377.5 247.0L376.8 246.1L376.1 245.6L375.4 244.5L374.7 244.4L374.0 247.4L373.3 244.4L372.6 245.0L371.9 244.8L371.2 244.6L370.5 245.8L369.8 245.1L369.1 244.6L368.4 245.6L367.7 244.7L367.0 245.1L366.3 246.1L365.6 244.5L364.9 245.4L364.2 245.1L363.5 244.7L362.8 245.1L362.1 245.9L361.4 246.0Z" fill="#2a2a2a" opacity="0.74"/>
</g>
<rect x="360.8" y="228.4" width="49.8" height="26.4" fill="none" stroke="#222" stroke-width="0.9"/>
<rect x="414.4" y="228.4" width="49.3" height="26.4" fill="#ededed"/>
<g filter="url(#bl)">
<path d="M415.4 238.5V246.0M416.0 236.2V246.3M416.6 239.9V246.9M417.2 238.3V244.4M417.8 238.1V248.1M418.4 240.2V245.5M419.0 237.7V243.9M419.6 234.8V244.2M420.2 237.0V244.1M420.8 239.3V245.7M421.4 239.7V246.7M422.0 235.7V251.1M422.6 237.2V245.5M423.2 237.4V244.9M423.8 240.0V247.0M424.4 239.8V247.4M425.0 237.8V246.2M425.6 237.6V243.7M426.2 238.6V245.9M426.8 238.7V246.7M427.4 239.5V245.1M428.0 239.3V244.4M428.6 236.8V243.2M429.2 239.8V245.7M429.8 239.4V245.1M430.4 236.4V244.7M431.0 237.8V249.8M431.6 234.8V243.6M432.2 239.6V243.9M432.8 239.9V244.3M433.4 238.2V247.5M434.0 238.2V247.6M434.6 239.5V246.6M435.2 236.0V245.0M435.8 240.5V247.6M436.4 239.3V243.4M437.0 232.9V244.3M437.6 237.6V243.8M438.2 238.9V248.0M438.8 235.3V245.7M439.4 238.4V248.2M440.0 237.9V246.5M440.6 240.0V246.4M441.2 238.8V245.2M441.8 240.0V245.6M442.4 239.7V244.9M443.0 238.7V243.2M443.6 238.2V246.7M444.2 239.7V246.2M444.8 236.9V244.1M445.4 235.6V243.8M446.0 237.8V244.7M446.6 237.9V244.9M447.2 239.6V246.2M447.8 239.3V248.6M448.4 240.4V243.7M449.0 239.4V245.1M449.6 238.9V243.9M450.2 239.6V245.5M450.8 234.6V247.3M451.4 239.5V246.1M452.0 238.3V243.4M452.6 237.9V246.6M453.2 239.6V247.6M453.8 233.9V243.3M454.4 233.4V248.8M455.0 240.3V244.9M455.6 236.7V244.4M456.2 240.5V244.1M456.8 235.2V244.5M457.4 237.5V243.5M458.0 240.2V244.0M458.6 238.2V250.4M459.2 238.5V245.5M459.8 238.0V246.5M460.4 238.9V245.0M461.0 236.7V244.6M461.6 234.6V245.6M462.2 239.0V246.0" stroke="#555" stroke-width="0.45" fill="none" opacity="0.6"/>
<path d="M415.4 239.3V244.3M415.8 237.8V244.8M416.3 238.8V245.0M416.7 238.0V245.2M417.2 239.8V244.6M417.6 239.2V243.7M418.1 238.7V244.4M418.5 239.1V246.0M419.0 237.9V244.3M419.4 239.2V246.0M419.9 239.3V244.1M420.3 238.8V245.5M420.8 239.0V246.2M421.2 239.8V244.1M421.7 238.0V244.4M422.1 239.5V245.6M422.6 239.3V244.0M423.0 238.7V244.8M423.5 239.3V243.8M423.9 240.1V245.7M424.4 239.8V245.0M424.8 238.2V244.8M425.3 240.0V244.6M425.7 237.8V244.9M426.2 239.0V244.7M426.6 238.5V243.9M427.1 239.8V244.4M427.5 239.3V245.4M428.0 239.1V244.9M428.4 238.9V244.5M428.9 239.9V244.0M429.3 238.9V243.7M429.8 238.8V244.7M430.2 240.0V244.4M430.7 239.2V244.3M431.1 239.9V243.7M431.6 236.4V244.4M432.0 239.2V244.7M432.5 239.3V244.0M432.9 239.9V244.9M433.4 238.1V244.4M433.8 238.8V246.6M434.3 240.1V244.0M434.7 239.9V244.4M435.2 239.8V243.9M435.6 237.8V244.5M436.1 237.2V244.4M436.5 239.8V243.9M437.0 239.1V244.4M437.4 237.8V245.8M437.9 240.1V245.3M438.3 238.2V246.1M438.8 239.5V244.7M439.2 239.5V243.9M439.7 236.4V244.5M440.1 240.1V244.0M440.6 240.1V244.8M441.0 237.9V245.2M441.5 239.9V244.0M441.9 239.7V245.6M442.4 238.0V246.5M442.8 239.5V243.9M443.3 240.1V246.6M443.7 239.7V244.6M444.2 238.4V244.8M444.6 239.3V244.3M445.1 240.1V244.3M445.5 239.4V243.7M446.0 240.1V244.3M446.4 240.1V243.8M446.9 240.0V244.5M447.3 237.4V244.3M447.8 239.6V246.5M448.2 238.4V245.6M448.7 239.3V244.7M449.1 237.8V245.3M449.6 239.2V245.1M450.0 239.1V244.0M450.5 239.5V244.9M450.9 239.7V244.2M451.4 240.1V244.1M451.8 239.8V245.2M452.3 238.6V245.6M452.7 240.0V244.9M453.2 239.6V244.5M453.6 239.5V244.6M454.1 239.4V244.9M454.5 239.0V246.1M455.0 237.5V245.9M455.4 237.7V244.6M455.9 239.7V244.4M456.3 239.1V243.8M456.8 240.1V244.5M457.2 237.6V246.5M457.7 237.3V243.7M458.1 239.3V244.2M458.6 239.8V243.9M459.0 240.0V244.7M459.5 239.9V243.7M459.9 239.7V244.7M460.4 240.1V243.7M460.8 239.4V245.0M461.3 239.6V244.9M461.7 239.4V244.1M462.2 239.5V243.9M462.6 239.2V245.6" stroke="#333" stroke-width="0.45" fill="none" opacity="0.46"/>
<path d="M415.0 240.6L415.7 240.4L416.4 240.2L417.1 240.6L417.8 240.0L418.5 240.4L419.2 240.6L419.9 240.6L420.6 240.6L421.3 240.5L422.0 240.0L422.7 240.6L423.4 240.1L424.1 240.3L424.8 240.2L425.5 240.4L426.2 240.1L426.9 240.0L427.6 240.0L428.3 240.0L429.0 240.2L429.7 240.3L430.4 240.0L431.1 239.6L431.8 240.0L432.5 240.0L433.2 240.5L433.9 240.3L434.6 240.5L435.3 240.6L436.0 240.4L436.7 240.5L437.4 239.9L438.1 240.1L438.8 240.6L439.5 240.1L440.2 240.4L440.9 240.0L441.6 240.6L442.3 240.4L443.0 239.7L443.7 240.2L444.4 240.6L445.1 240.1L445.8 240.2L446.5 240.3L447.2 239.6L447.9 240.6L448.6 240.6L449.3 239.2L450.0 240.2L450.7 240.2L451.4 240.0L452.1 239.4L452.8 240.6L453.5 240.3L454.2 240.4L454.9 240.1L455.6 240.4L456.3 239.7L457.0 239.9L457.7 240.2L458.4 240.5L459.1 240.4L459.8 240.5L460.5 239.4L461.2 240.3L461.9 240.1L462.6 240.2L462.6 243.3L461.9 243.2L461.2 243.4L460.5 243.5L459.8 243.5L459.1 243.5L458.4 243.2L457.7 244.2L457.0 243.5L456.3 243.3L455.6 243.2L454.9 243.4L454.2 243.2L453.5 243.5L452.8 243.7L452.1 243.5L451.4 243.4L450.7 244.1L450.0 244.3L449.3 243.8L448.6 243.6L447.9 243.6L447.2 243.9L446.5 243.7L445.8 243.5L445.1 244.3L444.4 243.5L443.7 243.7L443.0 243.7L442.3 243.3L441.6 243.4L440.9 243.2L440.2 243.2L439.5 243.8L438.8 243.4L438.1 243.5L437.4 243.2L436.7 243.5L436.0 243.2L435.3 244.2L434.6 243.4L433.9 243.2L433.2 243.2L432.5 243.2L431.8 243.3L431.1 243.6L430.4 243.8L429.7 243.9L429.0 244.2L428.3 243.7L427.6 243.4L426.9 243.2L426.2 243.7L425.5 243.4L424.8 244.1L424.1 243.5L423.4 243.5L422.7 243.2L422.0 244.1L421.3 243.6L420.6 243.3L419.9 243.7L419.2 243.3L418.5 243.8L417.8 243.7L417.1 243.5L416.4 243.6L415.7 243.3L415.0 243.5Z" fill="#2a2a2a" opacity="0.50"/>
</g>
<rect x="414.4" y="228.4" width="49.3" height="26.4" fill="none" stroke="#222" stroke-width="0.9"/>
<rect x="468.1" y="228.4" width="49.7" height="26.4" fill="#ededed"/>
<g filter="url(#bl)">
<path d="M469.1 240.0V243.4M469.7 240.6V242.5M470.3 239.9V243.5M470.9 241.4V243.1M471.5 240.6V242.8M472.1 240.4V242.8M472.7 240.5V242.5M473.3 241.4V242.8M473.9 239.5V243.0M474.5 241.2V242.7M475.1 241.0V244.8M475.7 241.4V242.5M476.3 240.8V242.5M476.9 241.1V242.6M477.5 241.1V242.9M478.1 240.3V243.4M478.7 241.5V243.7M479.3 241.3V244.7M479.9 241.5V242.3M480.5 239.3V242.2M481.1 241.2V244.0M481.7 240.6V242.5M482.3 240.7V242.9M482.9 241.2V243.9M483.5 240.1V242.9M484.1 241.3V242.4M484.7 240.6V243.6M485.3 238.7V244.3M485.9 240.6V242.6M486.5 238.5V243.0M487.1 241.2V243.0M487.7 240.3V244.0M488.3 240.9V242.7M488.9 239.9V243.0M489.5 240.4V242.7M490.1 240.0V242.5M490.7 239.9V243.6M491.3 240.5V243.0M491.9 240.9V242.8M492.5 240.5V242.3M493.1 240.8V243.1M493.7 241.4V242.4M494.3 239.9V243.5M494.9 240.9V243.2M495.5 240.5V242.2M496.1 238.6V242.8M496.7 241.2V243.7M497.3 241.2V242.5M497.9 239.2V244.4M498.5 241.5V243.0M499.1 240.1V242.8M499.7 240.9V242.6M500.3 239.8V242.8M500.9 240.4V243.8M501.5 240.0V242.9M502.1 241.3V242.9M502.7 239.4V242.3M503.3 241.5V242.8M503.9 240.0V242.4M504.5 241.2V242.6M505.1 241.2V242.4M505.7 240.2V242.4M506.3 241.2V242.7M506.9 241.6V242.4M507.5 239.6V243.4M508.1 241.4V242.6M508.7 241.4V242.7M509.3 240.0V243.8M509.9 241.0V243.4M510.5 241.4V242.9M511.1 241.1V242.7M511.7 241.3V242.5M512.3 241.4V243.7M512.9 240.9V243.7M513.5 240.8V243.8M514.1 240.7V242.9M514.7 241.5V242.5M515.3 240.6V243.2M515.9 240.3V243.0M516.5 239.9V242.7" stroke="#555" stroke-width="0.45" fill="none" opacity="0.6"/>
<path d="M469.1 241.3V242.6M469.6 241.1V242.5M470.0 241.4V242.5M470.4 241.3V242.5M470.9 241.3V242.5M471.3 241.0V242.8M471.8 241.4V242.8M472.2 241.4V242.3M472.7 241.4V242.5M473.1 241.4V242.6M473.6 241.2V242.4M474.0 241.4V242.5M474.5 241.3V242.6M474.9 241.4V242.5M475.4 241.1V242.5M475.8 241.5V242.3M476.3 241.2V242.8M476.7 241.5V242.4M477.2 241.2V242.6M477.6 241.3V242.4M478.1 241.1V242.7M478.5 241.3V243.0M479.0 241.5V242.4M479.4 241.4V242.6M479.9 241.5V242.9M480.3 241.5V242.4M480.8 241.2V242.4M481.2 241.1V242.5M481.7 241.4V242.9M482.1 241.3V242.6M482.6 241.0V242.5M483.0 241.2V242.5M483.5 241.3V242.4M483.9 241.5V242.4M484.4 241.3V242.8M484.8 241.5V242.7M485.3 241.1V242.4M485.7 241.3V242.4M486.2 241.2V242.4M486.6 241.3V242.4M487.1 241.4V242.5M487.5 241.4V242.8M488.0 241.5V242.5M488.4 241.2V242.4M488.9 241.2V242.4M489.3 241.3V242.9M489.8 241.2V242.6M490.2 241.2V242.8M490.7 241.0V242.5M491.1 241.3V242.7M491.6 241.2V242.5M492.0 241.4V242.9M492.5 241.3V242.5M492.9 241.3V242.5M493.4 241.3V242.4M493.8 241.3V242.8M494.3 241.3V242.4M494.7 241.3V242.6M495.2 241.4V242.5M495.6 241.4V242.3M496.1 241.0V242.3M496.5 241.1V242.6M497.0 241.1V242.4M497.4 241.2V242.5M497.9 241.3V242.4M498.3 241.4V242.3M498.8 241.1V242.5M499.2 241.0V242.8M499.7 241.3V242.5M500.1 241.5V242.5M500.6 241.0V242.4M501.0 241.3V242.5M501.5 241.3V242.7M501.9 241.1V242.9M502.4 241.2V242.8M502.8 241.2V242.8M503.3 241.4V242.5M503.7 241.4V242.6M504.2 241.2V242.6M504.6 241.1V242.7M505.1 241.5V242.4M505.5 241.1V242.5M506.0 241.3V242.7M506.4 240.9V242.7M506.9 241.1V242.3M507.3 241.3V242.5M507.8 241.4V242.4M508.2 241.4V242.5M508.7 240.7V242.6M509.1 241.4V242.4M509.6 241.3V242.4M510.0 241.5V242.3M510.5 241.2V242.8M510.9 241.4V242.6M511.4 241.4V242.8M511.8 241.2V242.3M512.3 241.3V242.6M512.7 241.2V242.8M513.2 241.3V242.4M513.6 241.4V242.6M514.1 241.2V242.4M514.5 241.4V242.4M515.0 241.3V242.6M515.4 240.8V242.4M515.9 240.9V242.9M516.3 241.1V242.4M516.8 241.4V242.4" stroke="#333" stroke-width="0.45" fill="none" opacity="0.75"/>
<path d="M468.7 241.5L469.4 241.5L470.1 241.5L470.8 241.5L471.5 241.4L472.2 241.5L472.9 241.5L473.6 241.4L474.3 241.5L475.0 241.5L475.7 241.5L476.4 241.5L477.1 241.5L477.8 241.4L478.5 241.6L479.2 241.5L479.9 241.4L480.6 241.6L481.3 241.5L482.0 241.6L482.7 241.6L483.4 241.4L484.1 241.4L484.8 241.6L485.5 241.4L486.2 241.4L486.9 241.5L487.6 241.4L488.3 241.6L489.0 241.6L489.7 241.6L490.4 241.4L491.1 241.6L491.8 241.6L492.5 241.5L493.2 241.5L493.9 241.4L494.6 241.5L495.3 241.5L496.0 241.5L496.7 241.5L497.4 241.6L498.1 241.6L498.8 241.6L499.5 241.4L500.2 241.4L500.9 241.6L501.6 241.5L502.3 241.5L503.0 241.6L503.7 241.4L504.4 241.5L505.1 241.5L505.8 241.5L506.5 241.5L507.2 241.5L507.9 241.6L508.6 241.6L509.3 241.3L510.0 241.6L510.7 241.5L511.4 241.5L512.1 241.5L512.8 241.5L513.5 241.5L514.2 241.5L514.9 241.5L515.6 241.6L516.3 241.5L517.0 241.4L517.0 242.2L516.3 242.3L515.6 242.2L514.9 242.5L514.2 242.3L513.5 242.3L512.8 242.3L512.1 242.2L511.4 242.3L510.7 242.4L510.0 242.2L509.3 242.2L508.6 242.3L507.9 242.2L507.2 242.4L506.5 242.3L505.8 242.3L505.1 242.4L504.4 242.4L503.7 242.4L503.0 242.2L502.3 242.3L501.6 242.3L500.9 242.3L500.2 242.4L499.5 242.3L498.8 242.2L498.1 242.2L497.4 242.5L496.7 242.3L496.0 242.4L495.3 242.4L494.6 242.4L493.9 242.3L493.2 242.3L492.5 242.3L491.8 242.3L491.1 242.3L490.4 242.2L489.7 242.3L489.0 242.2L488.3 242.3L487.6 242.2L486.9 242.3L486.2 242.3L485.5 242.2L484.8 242.3L484.1 242.3L483.4 242.3L482.7 242.2L482.0 242.2L481.3 242.3L480.6 242.4L479.9 242.2L479.2 242.2L478.5 242.3L477.8 242.4L477.1 242.3L476.4 242.3L475.7 242.3L475.0 242.3L474.3 242.3L473.6 242.3L472.9 242.3L472.2 242.2L471.5 242.4L470.8 242.3L470.1 242.2L469.4 242.4L468.7 242.4Z" fill="#2a2a2a" opacity="0.80"/>
</g>
<rect x="468.1" y="228.4" width="49.7" height="26.4" fill="none" stroke="#222" stroke-width="0.9"/>
</svg>
</body></html>
